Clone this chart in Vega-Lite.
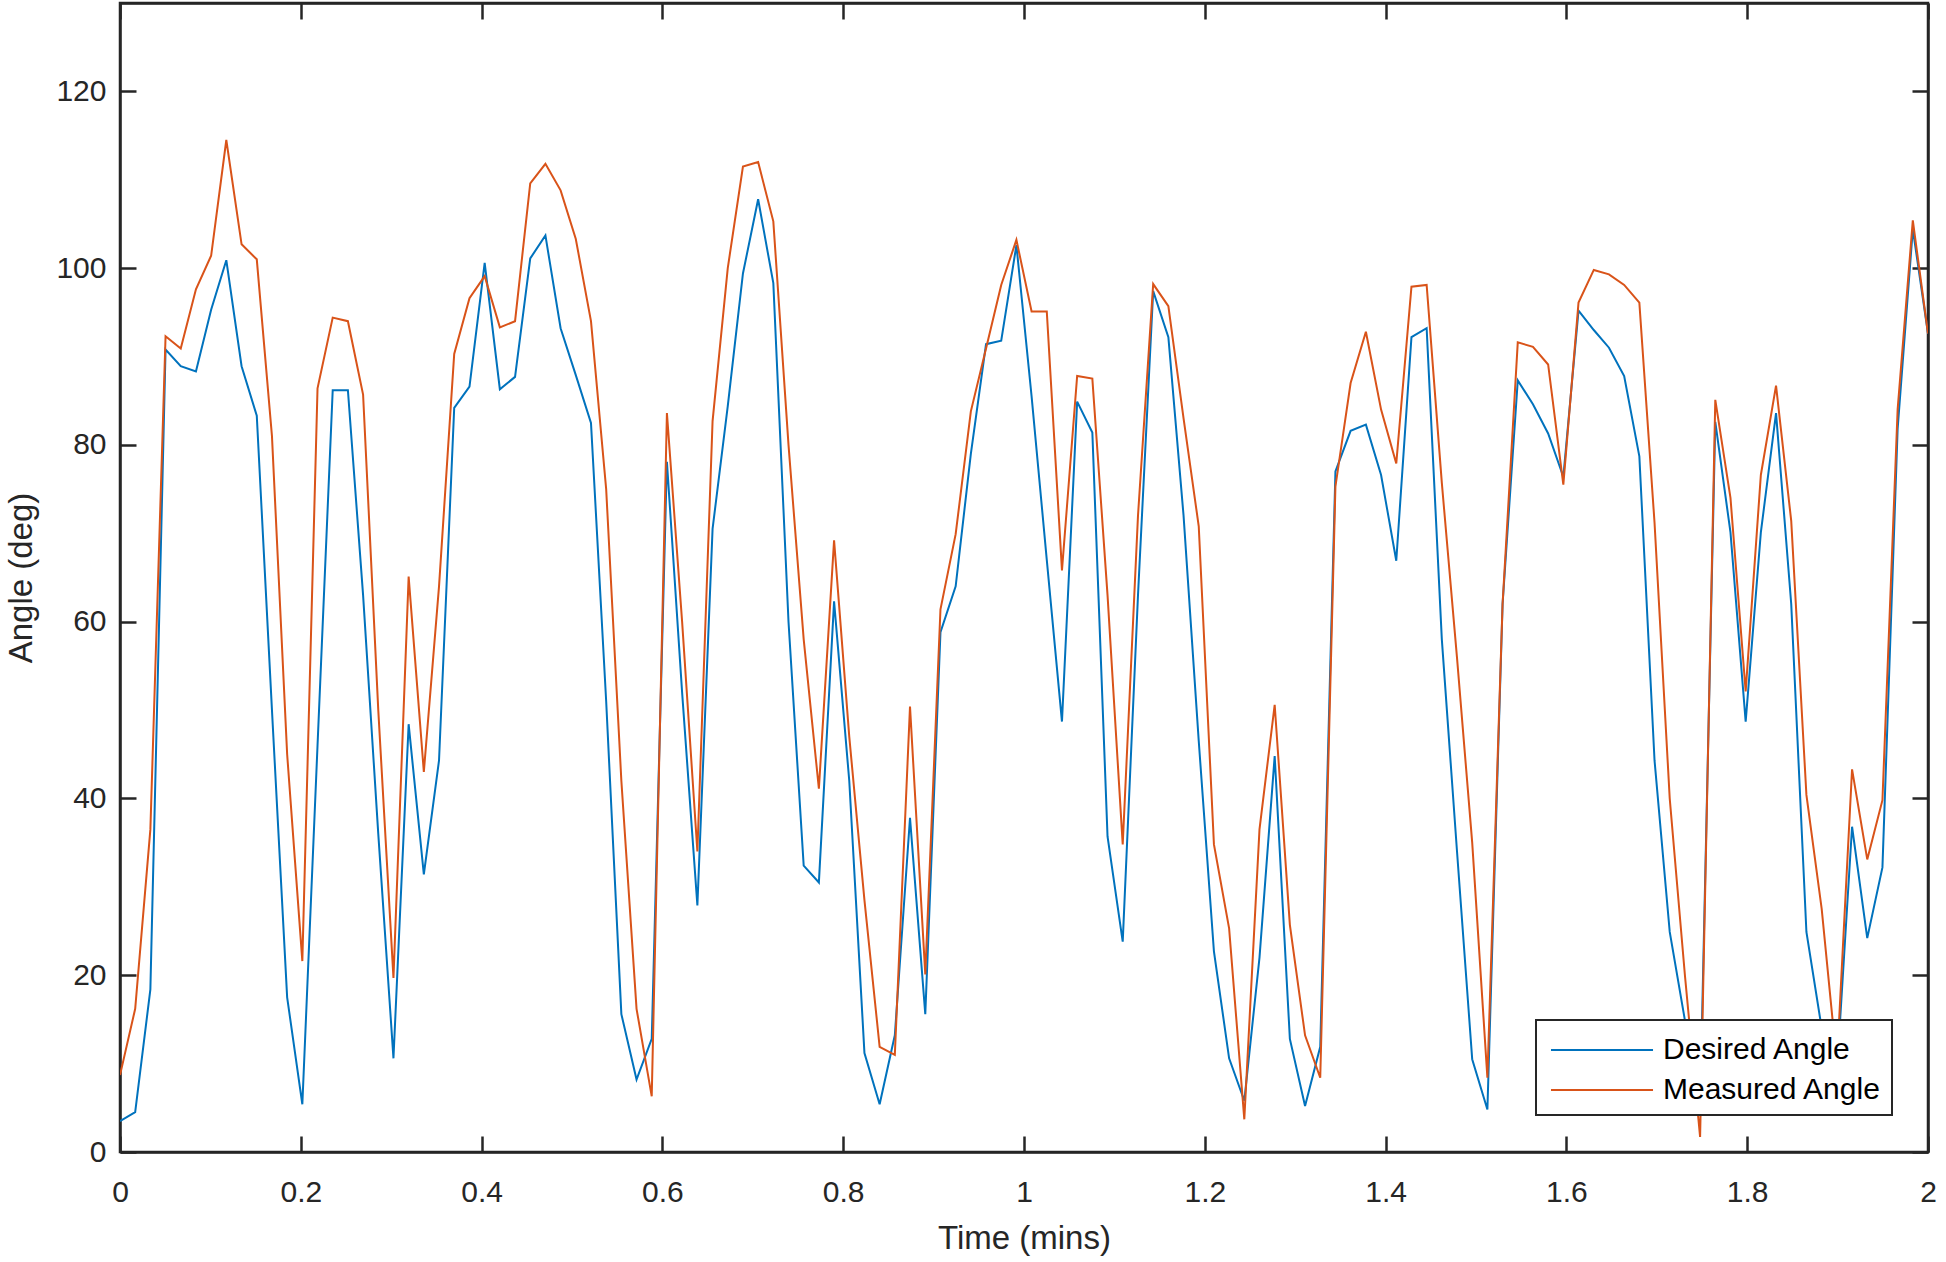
{
  "$schema": "https://vega.github.io/schema/vega-lite/v6.json",
  "width": 1808,
  "height": 1149,
  "autosize": {"type": "none"},
  "padding": {"left": 120, "top": 3, "right": 18, "bottom": 110},
  "background": "white",
  "data": {
    "values": [
      {"t": 0, "desired": 3.5, "measured": 8.7},
      {"t": 0.0168, "desired": 4.5, "measured": 16.2},
      {"t": 0.0336, "desired": 18.4, "measured": 36.5},
      {"t": 0.0504, "desired": 90.8, "measured": 92.3},
      {"t": 0.0672, "desired": 88.9, "measured": 90.9},
      {"t": 0.084, "desired": 88.3, "measured": 97.6},
      {"t": 0.1008, "desired": 95.3, "measured": 101.4},
      {"t": 0.1176, "desired": 100.9, "measured": 114.5},
      {"t": 0.1345, "desired": 88.9, "measured": 102.7},
      {"t": 0.1513, "desired": 83.3, "measured": 101},
      {"t": 0.1681, "desired": 50, "measured": 81},
      {"t": 0.1849, "desired": 17.5, "measured": 45},
      {"t": 0.2017, "desired": 5.4, "measured": 21.6},
      {"t": 0.2185, "desired": 46, "measured": 86.4},
      {"t": 0.2353, "desired": 86.2, "measured": 94.4},
      {"t": 0.2521, "desired": 86.2, "measured": 94},
      {"t": 0.2689, "desired": 63, "measured": 85.7},
      {"t": 0.2857, "desired": 36, "measured": 50},
      {"t": 0.3025, "desired": 10.6, "measured": 19.7},
      {"t": 0.3193, "desired": 48.4, "measured": 65.1},
      {"t": 0.3361, "desired": 31.4, "measured": 43},
      {"t": 0.3529, "desired": 44.3, "measured": 64},
      {"t": 0.3697, "desired": 84.2, "measured": 90.3},
      {"t": 0.3866, "desired": 86.6, "measured": 96.6},
      {"t": 0.4034, "desired": 100.6, "measured": 99.1},
      {"t": 0.4202, "desired": 86.3, "measured": 93.3},
      {"t": 0.437, "desired": 87.7, "measured": 94},
      {"t": 0.4538, "desired": 101.1, "measured": 109.6},
      {"t": 0.4706, "desired": 103.7, "measured": 111.8},
      {"t": 0.4874, "desired": 93.2, "measured": 108.8},
      {"t": 0.5042, "desired": 87.9, "measured": 103.3},
      {"t": 0.521, "desired": 82.5, "measured": 94},
      {"t": 0.5378, "desired": 51, "measured": 75},
      {"t": 0.5546, "desired": 15.6, "measured": 42},
      {"t": 0.5714, "desired": 8.2, "measured": 16.2},
      {"t": 0.5882, "desired": 12.8, "measured": 6.3},
      {"t": 0.605, "desired": 78.1, "measured": 83.6},
      {"t": 0.6218, "desired": 52, "measured": 60},
      {"t": 0.6387, "desired": 27.9, "measured": 34},
      {"t": 0.6555, "desired": 70.5, "measured": 82.7},
      {"t": 0.6723, "desired": 84.4, "measured": 100},
      {"t": 0.6891, "desired": 99.4, "measured": 111.5},
      {"t": 0.7059, "desired": 107.8, "measured": 112},
      {"t": 0.7227, "desired": 98.3, "measured": 105.3},
      {"t": 0.7395, "desired": 60, "measured": 80},
      {"t": 0.7563, "desired": 32.4, "measured": 58},
      {"t": 0.7731, "desired": 30.5, "measured": 41.1},
      {"t": 0.7899, "desired": 62.3, "measured": 69.2},
      {"t": 0.8067, "desired": 42, "measured": 47},
      {"t": 0.8235, "desired": 11.2, "measured": 28.5},
      {"t": 0.8403, "desired": 5.4, "measured": 11.9},
      {"t": 0.8571, "desired": 13.2, "measured": 11},
      {"t": 0.8739, "desired": 37.8, "measured": 50.4},
      {"t": 0.8908, "desired": 15.6, "measured": 20.1},
      {"t": 0.9076, "desired": 58.8, "measured": 61.4},
      {"t": 0.9244, "desired": 64, "measured": 69.9},
      {"t": 0.9412, "desired": 79, "measured": 83.8},
      {"t": 0.958, "desired": 91.4, "measured": 90.9},
      {"t": 0.9748, "desired": 91.8, "measured": 98.1},
      {"t": 0.9916, "desired": 102.6, "measured": 103.2},
      {"t": 1.0084, "desired": 85.5, "measured": 95.1},
      {"t": 1.0252, "desired": 67, "measured": 95.1},
      {"t": 1.042, "desired": 48.7, "measured": 65.8},
      {"t": 1.0588, "desired": 84.9, "measured": 87.8},
      {"t": 1.0756, "desired": 81.4, "measured": 87.5},
      {"t": 1.0924, "desired": 35.7, "measured": 63},
      {"t": 1.1092, "desired": 23.8, "measured": 34.8},
      {"t": 1.1261, "desired": 63, "measured": 72},
      {"t": 1.1429, "desired": 97.4, "measured": 98.2},
      {"t": 1.1597, "desired": 92.2, "measured": 95.7},
      {"t": 1.1765, "desired": 72, "measured": 83},
      {"t": 1.1933, "desired": 46.5, "measured": 70.8},
      {"t": 1.2101, "desired": 22.7, "measured": 34.8},
      {"t": 1.2269, "desired": 10.6, "measured": 25.3},
      {"t": 1.2437, "desired": 5.8, "measured": 3.7},
      {"t": 1.2605, "desired": 22, "measured": 36.5},
      {"t": 1.2773, "desired": 44.8, "measured": 50.6},
      {"t": 1.2941, "desired": 12.8, "measured": 25.7},
      {"t": 1.3109, "desired": 5.2, "measured": 13.2},
      {"t": 1.3277, "desired": 11.9, "measured": 8.4},
      {"t": 1.3445, "desired": 77, "measured": 75.3},
      {"t": 1.3613, "desired": 81.6, "measured": 87},
      {"t": 1.3782, "desired": 82.3, "measured": 92.8},
      {"t": 1.395, "desired": 76.6, "measured": 84},
      {"t": 1.4118, "desired": 66.9, "measured": 77.9},
      {"t": 1.4286, "desired": 92.2, "measured": 97.9},
      {"t": 1.4454, "desired": 93.2, "measured": 98.1},
      {"t": 1.4622, "desired": 58, "measured": 75.7},
      {"t": 1.479, "desired": 34, "measured": 55.9},
      {"t": 1.4958, "desired": 10.5, "measured": 35},
      {"t": 1.5126, "desired": 4.8, "measured": 8.4},
      {"t": 1.5294, "desired": 62, "measured": 62},
      {"t": 1.5462, "desired": 87.3, "measured": 91.6},
      {"t": 1.563, "desired": 84.6, "measured": 91.1},
      {"t": 1.5798, "desired": 81.3, "measured": 89.1},
      {"t": 1.5966, "desired": 76.4, "measured": 75.5},
      {"t": 1.6134, "desired": 95.2, "measured": 96.1},
      {"t": 1.6303, "desired": 93, "measured": 99.8},
      {"t": 1.6471, "desired": 91, "measured": 99.3},
      {"t": 1.6639, "desired": 87.8, "measured": 98.1},
      {"t": 1.6807, "desired": 78.7, "measured": 96.1},
      {"t": 1.6975, "desired": 44.3, "measured": 71.2},
      {"t": 1.7143, "desired": 24.9, "measured": 40},
      {"t": 1.7311, "desired": 14.9, "measured": 20},
      {"t": 1.7479, "desired": 5, "measured": 1.7},
      {"t": 1.7647, "desired": 82.6, "measured": 85.1},
      {"t": 1.7815, "desired": 70.1, "measured": 74},
      {"t": 1.7983, "desired": 48.7, "measured": 52.1},
      {"t": 1.8151, "desired": 70.1, "measured": 76.6},
      {"t": 1.8319, "desired": 83.6, "measured": 86.7},
      {"t": 1.8487, "desired": 62, "measured": 71.4},
      {"t": 1.8655, "desired": 24.9, "measured": 40.4},
      {"t": 1.8824, "desired": 14, "measured": 27.5},
      {"t": 1.8992, "desired": 9, "measured": 10},
      {"t": 1.916, "desired": 36.8, "measured": 43.3},
      {"t": 1.9328, "desired": 24.2, "measured": 33.1},
      {"t": 1.9496, "desired": 32.2, "measured": 39.8},
      {"t": 1.9664, "desired": 81.8, "measured": 84},
      {"t": 1.9832, "desired": 104.4, "measured": 105.4},
      {"t": 2, "desired": 92.6, "measured": 92.6}
    ]
  },
  "transform": [{"fold": ["desired", "measured"], "as": ["series", "angle"]}],
  "layer": [
    {
      "mark": {"type": "line", "strokeWidth": 2, "clip": true},
      "encoding": {
        "x": {
          "field": "t", "type": "quantitative",
          "scale": {"domain": [0, 2], "nice": false, "zero": false},
          "axis": {"orient": "bottom", "title": "Time (mins)", "values": [0, 0.2, 0.4, 0.6, 0.8, 1, 1.2, 1.4, 1.6, 1.8, 2], "format": "~g", "labelPadding": 41, "titlePadding": 15}
        },
        "y": {
          "field": "angle", "type": "quantitative",
          "scale": {"domain": [0, 130], "nice": false, "zero": false},
          "axis": {"orient": "left", "title": "Angle (deg)", "values": [0, 20, 40, 60, 80, 100, 120], "format": "d", "labelPadding": 30, "titlePadding": 17}
        },
        "color": {
          "field": "series", "type": "nominal",
          "scale": {"domain": ["desired", "measured"], "range": ["#0072BD", "#D95319"]},
          "legend": {
            "orient": "none", "legendX": 1416, "legendY": 1017, "title": null,
            "labelExpr": "datum.value == 'desired' ? 'Desired Angle' : 'Measured Angle'",
            "symbolType": "M-0.79,0H4.58", "symbolSize": 1444, "symbolStrokeWidth": 2,
            "labelFont": "Liberation Sans", "labelFontSize": 30, "labelColor": "#000000", "labelLimit": 0,
            "fillColor": "#ffffff", "strokeColor": "#262626", "padding": 10, "rowPadding": 5,
            "labelOffset": 77, "cornerRadius": 0
          }
        }
      }
    },
    {
      "mark": {"type": "point", "opacity": 0},
      "encoding": {
        "x": {
          "field": "t", "type": "quantitative",
          "axis": {"orient": "top", "labels": false, "title": null, "values": [0, 0.2, 0.4, 0.6, 0.8, 1, 1.2, 1.4, 1.6, 1.8, 2]}
        },
        "y": {
          "field": "angle", "type": "quantitative",
          "axis": {"orient": "right", "labels": false, "title": null, "values": [0, 20, 40, 60, 80, 100, 120]}
        }
      }
    }
  ],
  "resolve": {"axis": {"x": "independent", "y": "independent"}},
  "config": {
    "view": {"stroke": "#262626", "strokeWidth": 2.5},
    "axis": {
      "grid": false, "domainColor": "#262626", "domainWidth": 2.5,
      "tickColor": "#262626", "tickWidth": 2.5, "tickSize": -16,
      "labelFont": "Liberation Sans", "labelFontSize": 30, "labelColor": "#262626",
      "labelFlush": false, "labelOverlap": false,
      "titleFont": "Liberation Sans", "titleFontSize": 33, "titleColor": "#262626", "titleFontWeight": "normal"
    },
    "legend": {"strokeWidth": 2}
  }
}
